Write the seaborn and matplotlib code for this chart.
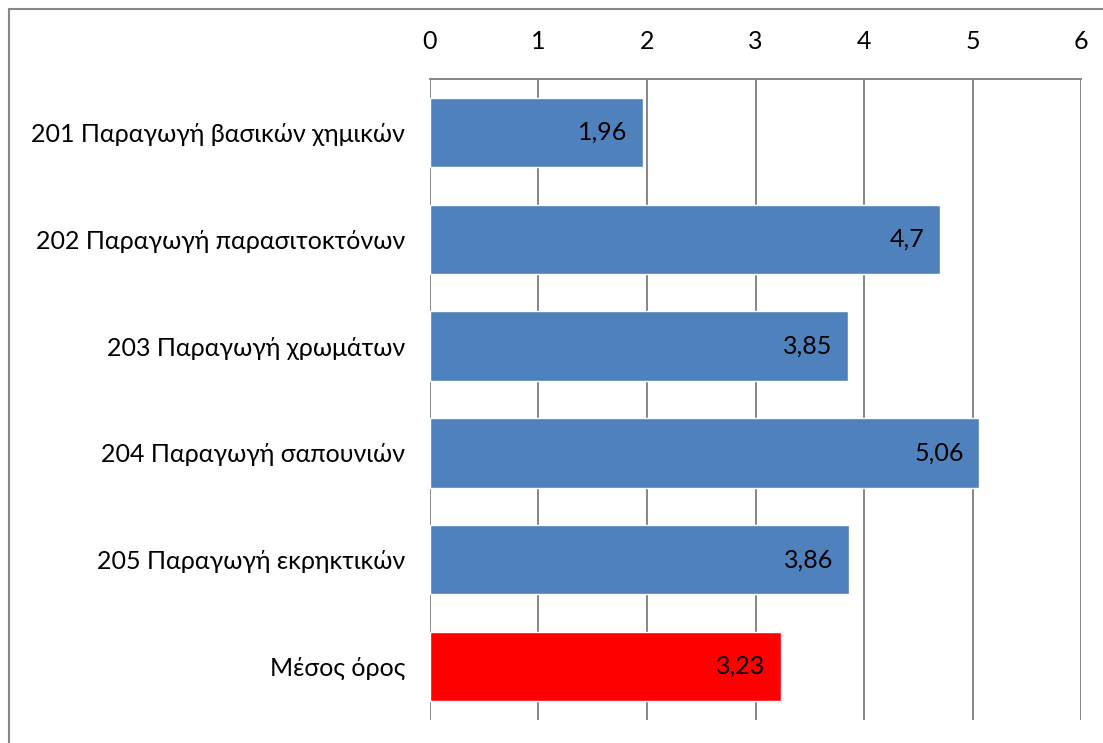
import pandas as pd
import matplotlib.pyplot as plt
import seaborn as sns
from matplotlib.patches import Rectangle

# %% dados
categorias = [
    '201 Παραγωγή βασικών χημικών',
    '202 Παραγωγή παρασιτοκτόνων',
    '203 Παραγωγή χρωμάτων',
    '204 Παραγωγή σαπουνιών',
    '205 Παραγωγή εκρηκτικών',
    'Μέσος όρος',
]
valores = [1.96, 4.7, 3.85, 5.06, 3.86, 3.23]
cores = ['#4F81BD', '#4F81BD', '#4F81BD', '#4F81BD', '#4F81BD', '#FF0000']
ticks_x = [0, 1, 2, 3, 4, 5, 6]

df = pd.DataFrame({'categoria': categorias, 'valor': valores})

# %% grafico
sns.set_style('white')
plt.rcParams['font.family'] = ['Lato', 'DejaVu Sans']
plt.rcParams['text.color'] = 'black'
plt.rcParams['xtick.color'] = 'black'
plt.rcParams['ytick.color'] = 'black'

fig = plt.figure(figsize=(11.03, 7.43), dpi=100)
ax = fig.add_axes([0.3898, 0.031, 0.5904, 0.8627])

sns.barplot(data=df, x='valor', y='categoria', hue='categoria',
            palette=cores, legend=False, width=0.65, saturation=1, ax=ax)

ax.set_xlim(0, 6)
ax.set_ylim(5.5, -0.5)
ax.set_xticks(ticks_x)
ax.xaxis.grid(True, color='#868686', linewidth=1.4)
ax.set_axisbelow(True)
ax.tick_params(axis='x', top=True, labeltop=True, bottom=False, labelbottom=False,
               length=0, pad=19, labelsize=18)
ax.tick_params(axis='y', length=0, pad=18, labelsize=18)
ax.set_xlabel('')
ax.set_ylabel('')

for lado in ['left', 'right', 'bottom']:
    ax.spines[lado].set_visible(False)
ax.spines['top'].set_color('#868686')
ax.spines['top'].set_linewidth(1.4)

# rotulos dentro da barra, alinhados a direita
for container in ax.containers:
    labels = [f'{v:g}'.replace('.', ',') for v in container.datavalues]
    textos = ax.bar_label(container, labels=labels, padding=-11, fontsize=18)
    for t in textos:
        t.set_ha('right')

# borda da figura
fig.patches.append(Rectangle((9 / 1103, -0.1), 1.2, 1 - 9 / 743 + 0.1,
                             transform=fig.transFigure, fill=False,
                             edgecolor='#868686', linewidth=1.5))

fig.savefig('out.png', dpi=100)
